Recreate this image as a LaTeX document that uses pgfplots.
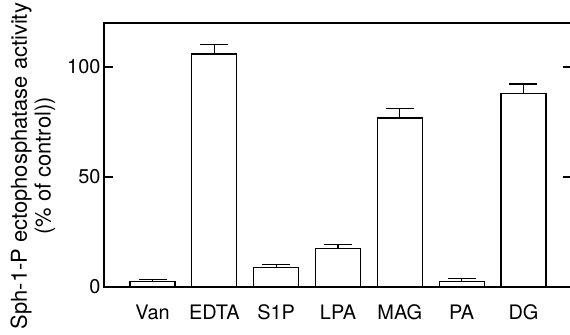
\documentclass[border=0pt]{standalone}
\usepackage{pgfplots}
\pgfplotsset{compat=1.18}
\usepackage{pgfplotstable}
\usepackage{fontspec}
\setmainfont{TeX Gyre Heros}
\pgfplotstableread{
x y e
0 2.4 1.1
1 105.9 4.2
2 8.9 1.5
3 17.6 1.9
4 76.8 4.4
5 2.4 1.5
6 88.0 4.3
}\datatable
\begin{document}
\begin{tikzpicture}
\begin{axis}[
  at={(0,0)}, anchor=south west,
  scale only axis,
  width=468bp, height=264bp,
  xmin=-0.785, xmax=6.785,
  ymin=0, ymax=120,
  ytick={0,50,100},
  xtick=data,
  xticklabels={Van,EDTA,S1P,LPA,MAG,PA,DG},
  x tick style={draw=none},
  tick align=inside,
  major tick length=9bp,
  ytick pos=both,
  axis line style={line width=1.2bp, black},
  every tick/.style={line width=1.2bp, black},
  /pgf/number format/assume math mode=true,
  tick label style={font=\fontsize{20}{24}\selectfont},
  x tick label style={yshift=-14bp},
  ylabel={Sph-1-P ectophosphatase activity\\(\% of control))},
  every axis y label/.style={at={(axis description cs:-0.152,0.458)},rotate=90,anchor=center,align=center,font=\fontsize{22}{24}\selectfont},
  clip=false,
]
\addplot[ybar, bar width=45bp, fill=white, draw=black, line width=1.2bp,
  error bars/.cd, y dir=plus, y explicit,
  error bar style={line width=1.2bp, black},
  error mark options={line width=1.2bp, black, mark size=14bp, rotate=90}]
  table[x=x, y=y, y error=e]{\datatable};
\end{axis}
\pgfresetboundingbox
\path (-104bp,-48bp) rectangle (466bp,287bp);
\end{tikzpicture}
\end{document}
